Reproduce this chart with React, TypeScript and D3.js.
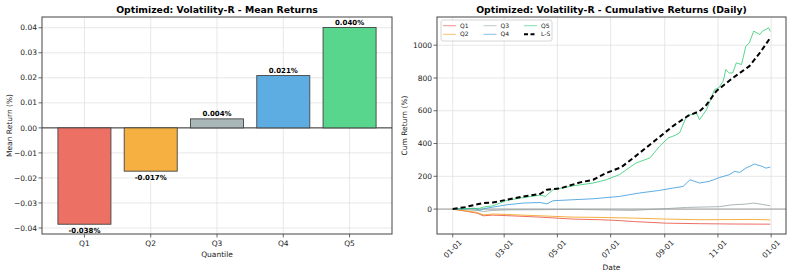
import React from 'react';
import * as d3 from 'd3';

// bar chart data
const quantiles = ['Q1', 'Q2', 'Q3', 'Q4', 'Q5'];
const meanReturns = [-0.0385, -0.0173, 0.0036, 0.0209, 0.0401];
const barLabels = ['-0.038%', '-0.017%', '0.004%', '0.021%', '0.040%'];
const barColors = ['#ec7063', '#f5b041', '#aab7b8', '#5dade2', '#58d68d'];
const meanTicks = [-0.04, -0.03, -0.02, -0.01, 0, 0.01, 0.02, 0.03, 0.04];

// cumulative returns: [day offset from 2023-01-01, cum return %]
const q1Points: [number, number][] = [
  [0, 0], [14, -12], [28, -25], [35, -41], [46, -37], [62, -40], [100, -49], [138, -61],
  [169, -65], [191, -70], [207, -76], [245, -86], [283, -89], [320, -91], [364, -92],
];
const q2Points: [number, number][] = [
  [0, 0], [14, -10], [28, -20], [35, -35], [46, -30], [62, -33], [100, -41], [138, -49],
  [169, -51], [207, -55], [245, -61], [283, -65], [320, -64], [345, -63], [364, -66],
];
const q3Points: [number, number][] = [
  [0, 0], [14, -3], [31, -10], [35, -15], [46, -8], [62, -5], [100, -4], [138, -2], [161, -4],
  [207, -8], [245, 3], [268, 10], [283, 12], [306, 15], [320, 26], [335, 30], [345, 37],
  [355, 28], [364, 20],
];
const q4Points: [number, number][] = [
  [0, 0], [14, 3], [25, 5], [31, -8], [35, 2], [46, 12], [62, 26], [81, 37], [100, 40],
  [108, 32], [115, 51], [138, 57], [161, 63], [191, 77], [214, 98], [237, 114], [252, 128],
  [264, 138], [272, 179], [283, 159], [294, 169], [306, 193], [317, 210], [323, 230],
  [329, 224], [336, 250], [346, 275], [355, 260], [359, 250], [364, 256],
];
const q5Points: [number, number][] = [
  [0, 0], [14, 3], [31, 5], [35, 12], [46, 20], [62, 53], [81, 70], [100, 85], [106, 77],
  [115, 118], [138, 142], [161, 159], [176, 179], [191, 210], [210, 281], [226, 312],
  [237, 383], [247, 434], [255, 450], [260, 465], [268, 566], [279, 587], [283, 546],
  [291, 607], [300, 729], [305, 740], [310, 780], [313, 851], [317, 830], [321, 831],
  [325, 892], [331, 882], [336, 994], [340, 1015], [345, 1086], [352, 1065], [355, 1086],
  [359, 1096], [362, 1106], [364, 1085],
];
const lsPoints: [number, number][] = [
  [0, 0], [14, 12], [35, 37], [46, 40], [62, 57], [81, 77], [100, 92], [108, 118], [123, 126],
  [146, 163], [161, 179], [176, 220], [193, 255], [207, 312], [226, 393], [245, 474],
  [252, 505], [270, 570], [283, 597], [291, 637], [302, 719], [321, 800], [340, 872],
  [352, 953], [364, 1045],
];
const cumTicks = [0, 200, 400, 600, 800, 1000];
const dateTicks = ['2023-01-01', '2023-03-01', '2023-05-01', '2023-07-01', '2023-09-01', '2023-11-01', '2024-01-01'];

const font = 'DejaVu Sans, sans-serif';
const startDate = new Date(2023, 0, 1);

const series = [
  { name: 'Q1', pts: q1Points, color: '#e74c3c', dash: false },
  { name: 'Q2', pts: q2Points, color: '#f39c12', dash: false },
  { name: 'Q3', pts: q3Points, color: '#95a5a6', dash: false },
  { name: 'Q4', pts: q4Points, color: '#3498db', dash: false },
  { name: 'Q5', pts: q5Points, color: '#2ecc71', dash: false },
  { name: 'L-S', pts: lsPoints, color: '#000', dash: true },
];

const MeanChart = () => {
  const left = 42, right = 392, top = 17, bottom = 234;
  const x = d3.scaleLinear().domain([-0.64, 4.64]).range([left, right]);
  const y = d3.scaleLinear().domain([-0.0424, 0.0443]).range([bottom, top]);
  const bw = x(0.8) - x(0);
  const fmt = d3.format('.2f');
  return (
    <g>
      <text x={(left + right) / 2} y={13} textAnchor="middle" fontWeight="bold" fontSize={9.3} fontFamily={font}>
        Optimized: Volatility-R - Mean Returns
      </text>
      {quantiles.map((q, i) => (
        <line key={q} x1={x(i)} x2={x(i)} y1={top} y2={bottom} stroke="#ddd" strokeWidth={0.7} />
      ))}
      {meanTicks.map(t => (
        <line key={t} x1={left} x2={right} y1={y(t)} y2={y(t)} stroke="#ddd" strokeWidth={0.7} />
      ))}
      <line x1={left} x2={right} y1={y(0)} y2={y(0)} stroke="#000" strokeWidth={0.8} />
      {meanReturns.map((v, i) => (
        <rect key={i} x={x(i) - bw / 2} width={bw} y={y(Math.max(0, v))} height={Math.abs(y(v) - y(0))}
          fill={barColors[i]} stroke="#444" strokeWidth={0.9} />
      ))}
      {meanReturns.map((v, i) => (
        <text key={i} x={x(i)} y={v >= 0 ? y(v) - 3 : y(v) + 9} textAnchor="middle" fontWeight="bold"
          fontSize={7} fontFamily={font}>{barLabels[i]}</text>
      ))}
      <rect x={left} y={top} width={right - left} height={bottom - top} fill="none" stroke="#444" strokeWidth={1} />
      {meanTicks.map(t => (
        <g key={t}>
          <line x1={left - 3.5} x2={left} y1={y(t)} y2={y(t)} stroke="#444" strokeWidth={0.8} />
          <text x={left - 5} y={y(t)} dy="0.35em" textAnchor="end" fontSize={7.5} fontFamily={font} fill="#222">
            {fmt(t)}
          </text>
        </g>
      ))}
      {quantiles.map((q, i) => (
        <g key={q}>
          <line x1={x(i)} x2={x(i)} y1={bottom} y2={bottom + 3.5} stroke="#444" strokeWidth={0.8} />
          <text x={x(i)} y={bottom + 12} textAnchor="middle" fontSize={7.5} fontFamily={font} fill="#222">{q}</text>
        </g>
      ))}
      <text x={(left + right) / 2} y={257} textAnchor="middle" fontSize={7.5} fontFamily={font} fill="#222">Quantile</text>
      <text transform={`translate(12,${(top + bottom) / 2}) rotate(-90)`} textAnchor="middle" fontSize={7.5}
        fontFamily={font} fill="#222">Mean Return (%)</text>
    </g>
  );
};

const CumChart = () => {
  const left = 437, right = 786, top = 17, bottom = 234;
  const x = d3.scaleTime()
    .domain([d3.timeDay.offset(startDate, -18), d3.timeDay.offset(startDate, 382)])
    .range([left, right]);
  const y = d3.scaleLinear().domain([-152, 1172]).range([bottom, top]);
  const line = d3.line<[number, number]>()
    .x(d => x(d3.timeDay.offset(startDate, d[0])))
    .y(d => y(d[1]));
  const ticks = dateTicks.map(s => d3.timeParse('%Y-%m-%d')(s)!);
  const fmt = d3.timeFormat('%m-%d');
  return (
    <g>
      <text x={(left + right) / 2} y={13} textAnchor="middle" fontWeight="bold" fontSize={9.3} fontFamily={font}>
        Optimized: Volatility-R - Cumulative Returns (Daily)
      </text>
      {ticks.map((t, i) => (
        <line key={i} x1={x(t)} x2={x(t)} y1={top} y2={bottom} stroke="#ddd" strokeWidth={0.7} />
      ))}
      {cumTicks.map(t => (
        <line key={t} x1={left} x2={right} y1={y(t)} y2={y(t)} stroke="#ddd" strokeWidth={0.7} />
      ))}
      <line x1={left} x2={right} y1={y(0)} y2={y(0)} stroke="#888" strokeWidth={0.8} />
      {series.map(s => (
        <path key={s.name} d={line(s.pts)!} fill="none" stroke={s.color}
          strokeOpacity={s.dash ? 1 : 0.8} strokeWidth={s.dash ? 2 : 1}
          strokeDasharray={s.dash ? '5,3' : undefined} />
      ))}
      <rect x={left} y={top} width={right - left} height={bottom - top} fill="none" stroke="#444" strokeWidth={1} />
      {cumTicks.map(t => (
        <g key={t}>
          <line x1={left - 3.5} x2={left} y1={y(t)} y2={y(t)} stroke="#444" strokeWidth={0.8} />
          <text x={left - 5} y={y(t)} dy="0.35em" textAnchor="end" fontSize={7.5} fontFamily={font} fill="#222">{t}</text>
        </g>
      ))}
      {ticks.map((t, i) => (
        <g key={i}>
          <line x1={x(t)} x2={x(t)} y1={bottom} y2={bottom + 3.5} stroke="#444" strokeWidth={0.8} />
          <text x={x(t)} y={249} dy="0.35em" textAnchor="middle" fontSize={7.5} fontFamily={font} fill="#222"
            transform={`rotate(-45,${x(t)},249)`}>{fmt(t)}</text>
        </g>
      ))}
      <text x={(left + right) / 2} y={270} textAnchor="middle" fontSize={7.5} fontFamily={font} fill="#222">Date</text>
      <text transform={`translate(407,${(top + bottom) / 2}) rotate(-90)`} textAnchor="middle" fontSize={7.5}
        fontFamily={font} fill="#222">Cum Return (%)</text>
      <g>
        <rect x={441} y={20} width={111} height={21} rx={2} fill="#fff" fillOpacity={0.8} stroke="#ccc" strokeWidth={0.8} />
        {series.map((s, i) => {
          const col = Math.floor(i / 2), row = i % 2;
          const lx = 443 + col * 40.5, ly = 25.7 + row * 8.6;
          return (
            <g key={s.name}>
              <line x1={lx} x2={lx + 13} y1={ly} y2={ly} stroke={s.color} strokeOpacity={s.dash ? 1 : 0.6}
                strokeWidth={s.dash ? 2 : 1} strokeDasharray={s.dash ? '4,2.5' : undefined} />
              <text x={lx + 17} y={ly} dy="0.35em" fontSize={6} fontFamily={font} fill="#222">{s.name}</text>
            </g>
          );
        })}
      </g>
    </g>
  );
};

const App = () => (
  <svg width={793} height={278} style={{ position: 'absolute', left: 0, top: 0, background: '#fff' }}>
    <MeanChart />
    <CumChart />
  </svg>
);

export default App;
